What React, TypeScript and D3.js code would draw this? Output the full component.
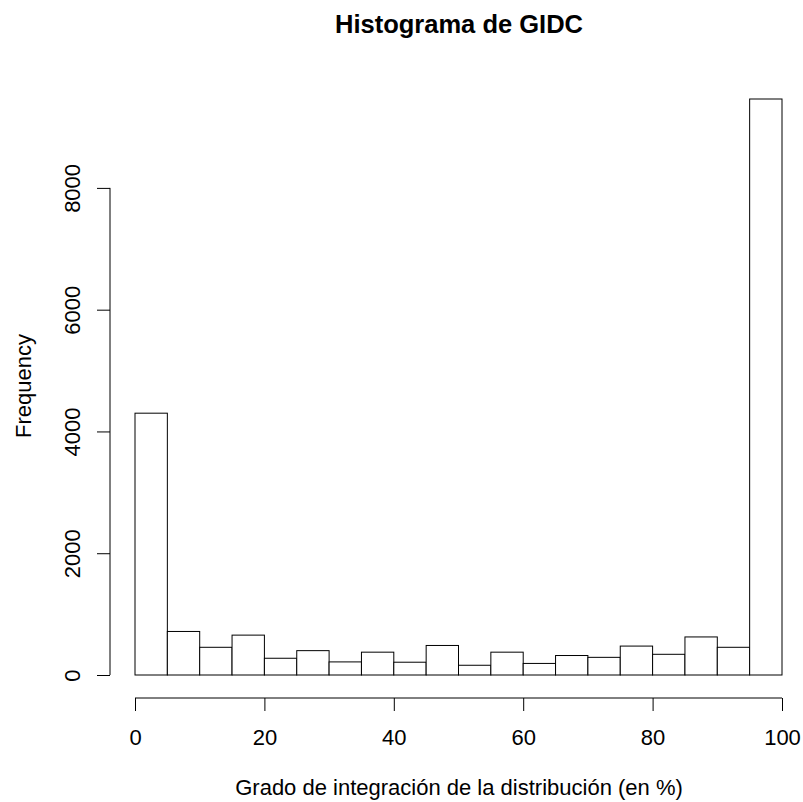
import React, { useRef, useEffect } from 'react';
import * as d3 from 'd3';

// bin edges (in %) and counts per bin
const binStarts = [0, 5, 10, 15, 20, 25, 30, 35, 40, 45, 50, 55, 60, 65, 70, 75, 80, 85, 90, 95];
const binWidth = 5;
const counts = [4300, 715, 455, 655, 275, 400, 215, 375, 210, 485, 160, 375, 190, 320, 290, 475, 340, 625, 455, 9460];
const xTicks = [0, 20, 40, 60, 80, 100];
const yTicks = [0, 2000, 4000, 6000, 8000];

const App = () => {
    const svgRef = useRef<SVGSVGElement>(null);

    useEffect(() => {
        const svg = d3.select(svgRef.current);
        svg.selectAll('*').remove();

        const font = '"Liberation Sans", Arial, sans-serif';
        const fs = 22;

        const xScale = d3.scaleLinear().domain([0, 100]).range([135, 782]);
        const yScale = d3.scaleLinear().domain([0, 9460]).range([675, 99]);

        // bars
        svg.selectAll('.bar')
            .data(counts)
            .enter()
            .append('rect')
            .attr('x', (d, i) => xScale(binStarts[i]))
            .attr('y', (d) => yScale(d))
            .attr('width', xScale(binWidth) - xScale(0))
            .attr('height', (d) => yScale(0) - yScale(d))
            .attr('fill', 'white')
            .attr('stroke', '#000')
            .attr('stroke-width', 1);

        // x axis
        const xAxis = d3.axisBottom(xScale)
            .tickValues(xTicks)
            .tickSize(13)
            .tickSizeOuter(0);
        const gx = svg.append('g')
            .attr('transform', 'translate(0, 698)')
            .call(xAxis);
        gx.select('.domain').attr('d', `M${xScale(0)},0H${xScale(100)}`);
        gx.selectAll('text')
            .attr('font-size', fs)
            .attr('font-family', font)
            .attr('fill', '#000')
            .attr('y', 47)
            .attr('dy', 0);

        // y axis
        const yAxis = d3.axisLeft(yScale)
            .tickValues(yTicks)
            .tickSize(13)
            .tickSizeOuter(0)
            .tickFormat(d3.format('d'));
        const gy = svg.append('g')
            .attr('transform', 'translate(110, 0)')
            .call(yAxis);
        gy.select('.domain').attr('d', `M0,${yScale(0)}V${yScale(8000)}`);
        gy.selectAll('text')
            .attr('font-size', fs)
            .attr('font-family', font)
            .attr('fill', '#000')
            .attr('text-anchor', 'middle')
            .attr('x', 0)
            .attr('dy', 0)
            .attr('transform', 'translate(-30,0) rotate(-90)');

        // titles
        svg.append('text')
            .attr('x', 459)
            .attr('y', 33)
            .attr('text-anchor', 'middle')
            .attr('font-family', font)
            .attr('font-weight', 'bold')
            .attr('font-size', 25.5)
            .text('Histograma de GIDC');

        svg.append('text')
            .attr('x', 459)
            .attr('y', 795)
            .attr('text-anchor', 'middle')
            .attr('font-family', font)
            .attr('font-size', fs)
            .text('Grado de integración de la distribución (en %)');

        svg.append('text')
            .attr('transform', 'translate(31, 386) rotate(-90)')
            .attr('text-anchor', 'middle')
            .attr('font-family', font)
            .attr('font-size', fs)
            .text('Frequency');
    }, []);

    return (
        <div>
            <svg ref={svgRef} width={803} height={802} style={{ position: 'absolute', left: 0, top: 0, background: '#fff' }}></svg>
        </div>
    );
};

export default App;
